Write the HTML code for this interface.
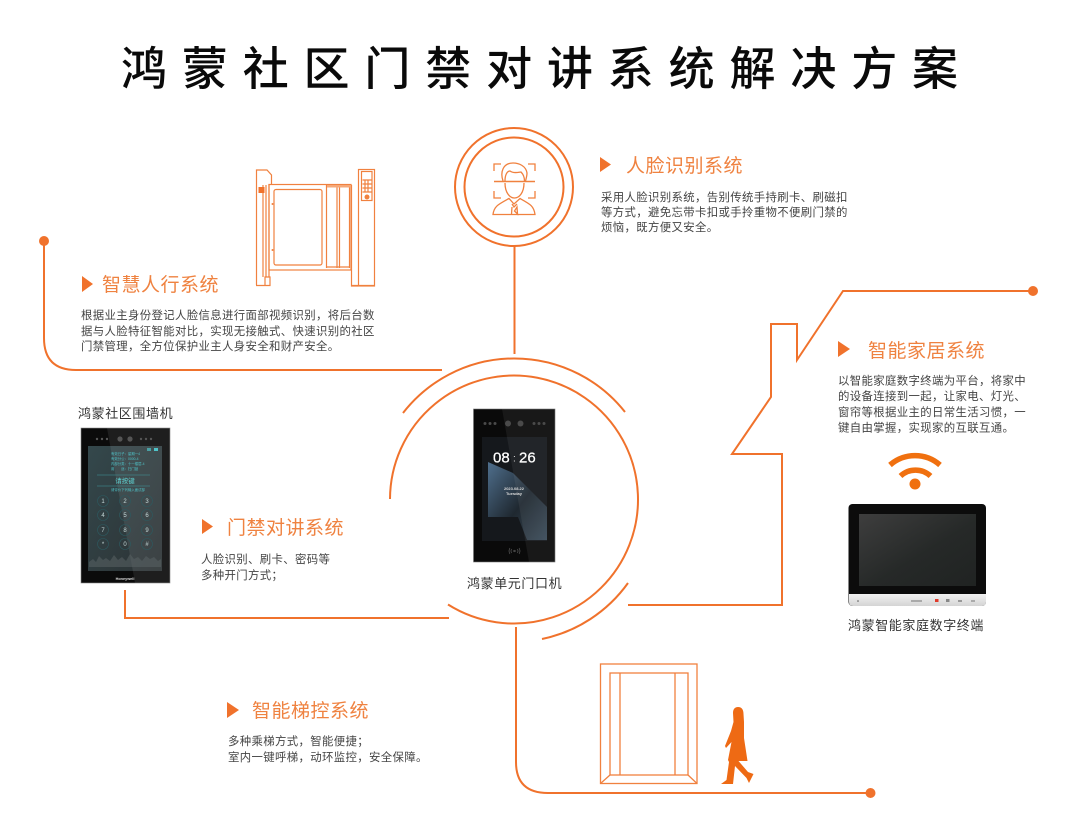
<!DOCTYPE html>
<html lang="zh">
<head>
<meta charset="utf-8">
<title>鸿蒙社区门禁对讲系统解决方案</title>
<style>
html,body{margin:0;padding:0;background:#fff;width:1080px;height:813px;overflow:hidden}
svg{display:block}
text{font-family:"Liberation Sans","Noto Sans CJK SC",sans-serif}
.t{font-size:46px;font-weight:500;letter-spacing:14.85px;fill:#0a0a0a}
.h{font-size:19px;letter-spacing:.5px;fill:#ef8240}
.b{font-size:11.4px;letter-spacing:.36px;fill:#444}
.l{font-size:13px;letter-spacing:.6px;fill:#333}
.k{font-size:6px;fill:#c5d8d8;text-anchor:middle}
.c{font-size:3.4px;fill:#4fc3c8}
</style>
</head>
<body>
<svg width="1080" height="813" viewBox="0 0 1080 813" xmlns="http://www.w3.org/2000/svg">
<defs>
<linearGradient id="blue" x1="0" y1="0" x2="1" y2="1"><stop offset="0" stop-color="#4f6f8d"/><stop offset=".55" stop-color="#1f2830"/><stop offset="1" stop-color="#3a4a58"/></linearGradient>
<linearGradient id="scr" x1="0" y1="0" x2="1" y2="1"><stop offset="0" stop-color="#34484c"/><stop offset="1" stop-color="#2c3234"/></linearGradient>
<linearGradient id="mon" x1="0" y1="0" x2="1" y2="1"><stop offset="0" stop-color="#3e3e3e"/><stop offset=".55" stop-color="#262928"/><stop offset="1" stop-color="#202322"/></linearGradient>
<linearGradient id="silver" x1="0" y1="0" x2="0" y2="1"><stop offset="0" stop-color="#f2f2f2"/><stop offset="1" stop-color="#d4d4d4"/></linearGradient>
</defs>

<text class="t" x="121" y="85">鸿蒙社区门禁对讲系统解决方案</text>

<!-- connectors -->
<g fill="none" stroke="#f0722c" stroke-width="2">
<circle cx="514" cy="187" r="59"/>
<circle cx="514" cy="187" r="49.500"/>
<path d="M514.500 246V354"/>
<path d="M44 241V338Q44 370 76 370H442"/>
<path d="M1033 291H843L797 360V324H771V397L732 454H782V605H628"/>
<path d="M516 627V762Q516 793 548 793H870"/>
<path d="M125 590V618H449"/>
<path d="M390 499A124 124 0 1 1 448 604.500"/>
<path d="M403 413A141 141 0 0 1 625 412"/>
<path d="M628 583A141 141 0 0 1 542 639"/>
</g>
<g fill="#f0722c">
<circle cx="44" cy="241" r="5"/>
<circle cx="1033" cy="291" r="5"/>
<circle cx="870.500" cy="793" r="5"/>
<path d="M600 157L611 164.500L600 172Z"/>
<path d="M82 276L93 284L82 292Z"/>
<path d="M838 341L850 349L838 357Z"/>
<path d="M202 519L213 526.500L202 534Z"/>
<path d="M227 702L239 710L227 718Z"/>
</g>

<!-- face icon -->
<g fill="none" stroke="#f0813f" stroke-width="1.300">
<path d="M494 171V164H501M528 164H535V171M494 191V198H501M528 198H535V191"/>
<path d="M494 181.500H535" stroke-width="1.500"/>
<path d="M503 181C500 172 503 163 513 163C519 163 526 166 527 173C527 176 526 179 525.500 181"/>
<path d="M505 181C505 175 507 171 510 171C514 174 519 172 521 172C524 175 524.500 178 524.500 181"/>
<path d="M505 183C505 193 510 198 514.500 198C519 198 524 193 524 183"/>
<path d="M493 214.500C494 206 499 204 509 198.500L514 204L520 198.500C530 204 534 206 535 214.500Z"/>
<path d="M512 204L514 207L517 204M512 207L511.500 214M517 207L517.500 214L514.500 211Z"/>
</g>

<!-- turnstile -->
<g fill="none" stroke="#f0813f" stroke-width="1.200">
<path d="M256.500 285V170H267L271.500 175V184"/>
<path d="M256 285.500H270V277H265V285"/>
<path d="M263 185V277M266 185V277M269 184V277" />
<rect x="269" y="184.500" width="82" height="85.500"/>
<rect x="274" y="189.500" width="48" height="75.500" rx="2"/>
<path d="M326.500 184.500V268M337 187V268M339.500 187V268M349.500 187V268M326.500 267H350"/>
<path d="M351.500 185V286H358M351 285.500H375"/>
<rect x="358.500" y="169.500" width="16" height="116.500"/>
<rect x="361.500" y="171.500" width="10.500" height="29"/>
<path d="M362.500 180H372M362.500 184H372M362.500 188H372M362.500 192H372M365 180V192M368 180V192"/>
</g>
<rect x="327" y="185" width="24" height="2.500" fill="#f6a878"/>
<rect x="258.500" y="187" width="6" height="6" fill="#f0722c"/>
<circle cx="367" cy="197" r="2.500" fill="#f0813f"/>
<circle cx="272.500" cy="204" r="1" fill="#f0813f"/>
<circle cx="272.500" cy="250" r="1" fill="#f0813f"/>

<!-- section: face -->
<text class="h" x="626" y="172">人脸识别系统</text>
<text class="b" x="601" y="201.200">采用人脸识别系统，告别传统手持刷卡、刷磁扣</text>
<text class="b" x="601" y="216.200">等方式，避免忘带卡扣或手拎重物不便刷门禁的</text>
<text class="b" x="601" y="231.200">烦恼，既方便又安全。</text>

<!-- section: pass -->
<text class="h" x="102" y="291">智慧人行系统</text>
<text class="b" x="81" y="319.200">根据业主身份登记人脸信息进行面部视频识别，将后台数</text>
<text class="b" x="81" y="335">据与人脸特征智能对比，实现无接触式、快速识别的社区</text>
<text class="b" x="81" y="350.200">门禁管理，全方位保护业主人身安全和财产安全。</text>

<!-- section: home -->
<text class="h" x="868" y="357">智能家居系统</text>
<text class="b" x="838" y="384.500">以智能家庭数字终端为平台，将家中</text>
<text class="b" x="838" y="400.200">的设备连接到一起，让家电、灯光、</text>
<text class="b" x="838" y="416">窗帘等根据业主的日常生活习惯，一</text>
<text class="b" x="838" y="431.500">键自由掌握，实现家的互联互通。</text>

<!-- section: intercom -->
<text class="h" x="227" y="534">门禁对讲系统</text>
<text class="b" x="201" y="563.200">人脸识别、刷卡、密码等</text>
<text class="b" x="201" y="579">多种开门方式；</text>

<!-- section: elevator -->
<text class="h" x="252" y="717">智能梯控系统</text>
<text class="b" x="228" y="745.200">多种乘梯方式，智能便捷；</text>
<text class="b" x="228" y="761">室内一键呼梯，动环监控，安全保障。</text>

<!-- left device -->
<text class="l" x="78" y="418">鸿蒙社区围墙机</text>
<rect x="81" y="428" width="89" height="155" fill="#0b0b0b" stroke="#8a8a8a" stroke-width=".6"/>
<rect x="88" y="446" width="74" height="125" fill="url(#scr)"/>
<path d="M107 428H170V583H135Z" fill="#fff" opacity=".08"/>
<g fill="#555"><circle cx="97" cy="439" r="1.200"/><circle cx="102" cy="439" r="1.200"/><circle cx="107" cy="439" r="1.200"/><circle cx="120" cy="439" r="2.600"/><circle cx="130" cy="439" r="2.600"/><circle cx="141" cy="439" r="1.200"/><circle cx="146" cy="439" r="1.200"/><circle cx="151" cy="439" r="1.200"/></g>
<text class="c" x="111" y="455">有效日子：星期一4</text>
<text class="c" x="111" y="460">有效分公：0000-4</text>
<text class="c" x="111" y="465">内部分类：十一楼层-4</text>
<text class="c" x="111" y="470">用　　途：扫门锁</text>
<rect x="147" y="448" width="4" height="3" fill="#4fc3c8" opacity=".7"/>
<rect x="154" y="448" width="4" height="3" fill="#4fc3c8"/>
<path d="M97 475H150M97 486H150" stroke="#3f9a9f" stroke-width=".5"/>
<text x="125" y="483" font-size="6.500" fill="#5fd0d0" text-anchor="middle">请按键</text>
<text class="c" x="111" y="491">请评价下列输入面试部</text>
<g fill="none" stroke="#2d5a60" stroke-width=".6">
<circle cx="103" cy="501" r="5.500"/><circle cx="125" cy="501" r="5.500"/><circle cx="147" cy="501" r="5.500"/>
<circle cx="103" cy="515" r="5.500"/><circle cx="125" cy="515" r="5.500"/><circle cx="147" cy="515" r="5.500"/>
<circle cx="103" cy="530" r="5.500"/><circle cx="125" cy="530" r="5.500"/><circle cx="147" cy="530" r="5.500"/>
<circle cx="103" cy="544" r="5.500"/><circle cx="125" cy="544" r="5.500"/><circle cx="147" cy="544" r="5.500"/>
</g>
<text class="k" x="103" y="503">1</text><text class="k" x="125" y="503">2</text><text class="k" x="147" y="503">3</text>
<text class="k" x="103" y="517">4</text><text class="k" x="125" y="517">5</text><text class="k" x="147" y="517">6</text>
<text class="k" x="103" y="532">7</text><text class="k" x="125" y="532">8</text><text class="k" x="147" y="532">9</text>
<text class="k" x="103" y="546">*</text><text class="k" x="125" y="546">0</text><text class="k" x="147" y="546">#</text>
<path d="M89 567V562L93 559L96 562L99 556L103 560L106 558L110 561L114 555L118 560L122 557L126 561L130 554L134 559L138 557L142 561L146 556L150 559L154 557L158 561L161 559V567Z" fill="#5a6264" opacity=".55"/>
<text x="125" y="580" font-size="3.800" font-weight="bold" fill="#ddd" text-anchor="middle">Honeywell</text>

<!-- center device -->
<rect x="473.500" y="409" width="81.500" height="153" fill="#0a0a0a" stroke="#777" stroke-width=".6"/>
<rect x="482" y="437" width="65" height="104" fill="#15181c"/>
<path d="M488 462L513 473L547 507V540H527L518 517H488Z" fill="url(#blue)"/>
<path d="M502 409H555V562H529Z" fill="#fff" opacity=".06"/>
<g fill="#4a4a4a"><circle cx="485" cy="423.500" r="1.500"/><circle cx="490" cy="423.500" r="1.500"/><circle cx="495" cy="423.500" r="1.500"/><circle cx="508" cy="423.500" r="3"/><circle cx="520.500" cy="423.500" r="3"/><circle cx="534" cy="423.500" r="1.500"/><circle cx="539" cy="423.500" r="1.500"/><circle cx="544" cy="423.500" r="1.500"/></g>
<text x="493" y="462.500" font-size="15" fill="#fff" font-family="Liberation Sans" stroke="#fff" stroke-width=".25">08</text>
<text x="513" y="461.500" font-size="10" fill="#ddd" font-family="Liberation Sans">:</text>
<text x="519" y="462.500" font-size="15" fill="#fff" font-family="Liberation Sans" stroke="#fff" stroke-width=".25">26</text>
<text x="514" y="490" font-size="4" font-weight="bold" fill="#ddd" text-anchor="middle">2023.08.22</text>
<text x="514" y="495" font-size="4" font-weight="bold" fill="#ddd" text-anchor="middle">Tuesday</text>
<g fill="none" stroke="#666" stroke-width=".6"><path d="M510 548Q508 551 510 554M519 548Q521 551 519 554M511.500 549Q510.500 551 511.500 553M517.500 549Q518.500 551 517.500 553"/><circle cx="514.500" cy="551" r=".8"/></g>
<text class="l" x="467" y="588">鸿蒙单元门口机</text>

<!-- wifi -->
<g fill="none" stroke="#f0700f" stroke-width="5.500">
<path d="M890 465A38 38 0 0 1 940 465"/>
<path d="M900.500 476A22 22 0 0 1 930.500 476"/>
</g>
<circle cx="915" cy="484" r="5.500" fill="#f0700f"/>

<!-- monitor -->
<rect x="848.500" y="504" width="137.500" height="102" rx="4" fill="#0c0c0c"/>
<path d="M849 594H986V602Q986 606 982 606H853Q849 606 849 602Z" fill="url(#silver)"/>
<rect x="859" y="514" width="117" height="72" fill="url(#mon)"/>
<rect x="935" y="599" width="3.500" height="3" fill="#e03a2a"/>
<rect x="946" y="599" width="3.500" height="3" fill="#888"/>
<rect x="958" y="600" width="4" height="2" fill="#999"/>
<rect x="971" y="600" width="4" height="2" fill="#aaa"/>
<rect x="911" y="600" width="11" height="2" fill="#aaa"/>
<circle cx="858" cy="601" r=".8" fill="#555"/>
<text class="l" x="848" y="630">鸿蒙智能家庭数字终端</text>

<!-- door -->
<g fill="none" stroke="#f0813f" stroke-width="1.300">
<rect x="600.500" y="664" width="96.500" height="119.500"/>
<rect x="610" y="673" width="78" height="102"/>
<path d="M620 673V775M675 673V775M600.500 783.500L610 775M697 783.500L688 775"/>
</g>

<!-- woman -->
<path fill="#ee6a14" d="M738 707C742 707 743.500 710 743.500 714L744 722L744 738L747.500 761L738.500 761L748 772L753.500 774L749 783L746.500 778L735 766L733 784L721 784L726.500 780L729 762L728 760L731.500 742L726 748L725 746L731 731L733.500 722L733 713C733 709 735 707 738 707Z"/>
</svg>
</body>
</html>
